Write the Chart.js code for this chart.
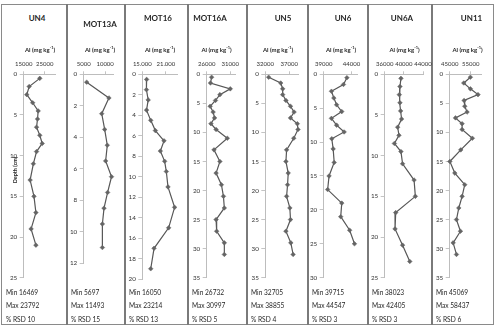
<!DOCTYPE html>
<html lang="en">
<head>
<meta charset="UTF-8">
<title>Al depth profiles</title>
<style>
    * { margin: 0; padding: 0; box-sizing: border-box; }
    body { width: 500px; height: 332px; background: #fff; position: relative; overflow: hidden; font-family: 'Lato', sans-serif; color: #262626; }
    .frame { position: absolute; left: 1px; top: 4px; width: 493px; height: 321px; border: 1.5px solid #8a8a8a; }
    .sep { position: absolute; top: 4px; width: 2px; height: 321px; background: #7a7a7a; }
    canvas { position: absolute; }
    .txt { position: absolute; white-space: nowrap; line-height: 1; }
    .title { font-weight: bold; font-size: 8px; transform: translate(-50%, -50%); }
    .axt { font-weight: bold; font-size: 6px; transform: translate(-50%, -50%); }
    .axt sup { font-size: 4px; vertical-align: 3px; }
    .stat { font-size: 6.6px; transform: translateY(-50%); }
    .depth { font-size: 5.5px; font-weight: bold; transform: translate(-50%, -50%) rotate(-90deg); }
</style>
</head>
<body>
<div class="frame"></div>
<script src="https://cdn.jsdelivr.net/npm/chart.js"></script>
<script>
    // core names
    const cores = ['UN4', 'MOT13A', 'MOT16', 'MOT16A', 'UN5', 'UN6', 'UN6A', 'UN11'];

    // depth (cm) of each sample, per core
    const depthUN4 = [0.5, 1.5, 2.5, 3.5, 4.5, 5.5, 6.5, 7.5, 8.5, 9.5, 11, 13, 15, 17, 19, 21];
    const depthMOT13A = [0.5, 1.5, 2.5, 3.5, 4.5, 5.5, 6.5, 7.5, 8.5, 9.5, 11];
    const depthMOT16 = [0.5, 1.5, 2.5, 3.5, 4.5, 5.5, 6.5, 7.5, 8.5, 9.5, 11, 13, 15, 17, 19];
    const depthMOT16A = [0.5, 1.5, 2.5, 3.5, 4.5, 5.5, 6.5, 7.5, 8.5, 9.5, 11, 13, 15, 17, 19, 21, 23, 25, 27, 29, 31];
    const depthUN5 = [0.5, 1.5, 2.5, 3.5, 4.5, 5.5, 6.5, 7.5, 8.5, 9.5, 11, 13, 15, 17, 19, 21, 23, 25, 27, 29, 31];
    const depthUN6 = [0.5, 1.5, 2.5, 3.5, 4.5, 5.5, 6.5, 7.5, 8.5, 9.5, 11, 13, 15, 17, 19, 21, 23, 25];
    const depthUN6A = [0.5, 1.5, 2.5, 3.5, 4.5, 5.5, 6.5, 7.5, 8.5, 9.5, 11, 13, 15, 17, 19, 21, 23];
    const depthUN11 = [0.5, 1.5, 2.5, 3.5, 4.5, 5.5, 6.5, 7.5, 8.5, 9.5, 11, 13, 15, 17, 19, 21, 23, 25, 27, 29, 31];

    // Al (mg/kg) per core
    const alUN4 = [22630, 17594, 16469, 19270, 21870, 21560, 21100, 22630, 23792, 21100, 19580, 18050, 19880, 20800, 18510, 20800];
    const alMOT13A = [5697, 10885, 9207, 9893, 10504, 10122, 11493, 10580, 9741, 9359, 9359];
    const alMOT16 = [16100, 16050, 16500, 16080, 17146, 18326, 20518, 19590, 20686, 21108, 21530, 23214, 21698, 17989, 17146];
    const alMOT16A = [27046, 26800, 30997, 28800, 27860, 26732, 27360, 27670, 26900, 27990, 30370, 27550, 28800, 27990, 29120, 29550, 29740, 27990, 28110, 29740, 29740];
    const alUN5 = [32705, 35232, 35642, 35642, 36325, 37281, 38032, 37281, 38715, 38855, 37964, 36462, 36325, 36803, 36666, 36462, 37145, 37281, 36325, 37350, 37828];
    const alUN6 = [43180, 42560, 40396, 40830, 41324, 42253, 40396, 41324, 42686, 40458, 40705, 40891, 39963, 39715, 42253, 42067, 43677, 44547];
    const alUN6A = [39393, 39188, 39050, 39188, 39325, 39530, 38708, 38982, 38023, 39393, 39736, 42133, 42405, 38297, 38160, 39736, 41243];
    const alUN11 = [54822, 51676, 54822, 58437, 51833, 52148, 53249, 47743, 50889, 50889, 55765, 50260, 45069, 47428, 52148, 50889, 49316, 48215, 50103, 46642, 48215];

    // axis ranges and tick labels
    const xMin = [15000, 5000, 15000, 26000, 32000, 39000, 36000, 45000];
    const xMax = [30000, 12000, 24000, 32000, 39000, 45000, 44000, 60000];
    const xTicks = [[15000, 25000], [5000, 10000], [15000, 21000], [26000, 31000], [32000, 37000], [39000, 44000], [36000, 40000, 44000], [45000, 55000]];
    const xTickLabels = [['15000', '25000'], ['5000', '10000'], ['15.000', '21.000'], ['26000', '31000'], ['32000', '37000'], ['39000', '44000'], ['36000', '40000', '44000'], ['45000', '55000']];
    const yMax = [25, 12, 20, 35, 35, 30, 25, 35];
    const yStep = [5, 2, 2, 5, 5, 5, 5, 5];

    // summary lines under each profile
    const minText = ['Min 16469', 'Min 5697', 'Min 16050', 'Min 26732', 'Min 32705', 'Min 39715', 'Min 38023', 'Min 45069'];
    const maxText = ['Max 23792', 'Max 11493', 'Max 23214', 'Max 30997', 'Max 38855', 'Max 44547', 'Max 42405', 'Max 58437'];
    const rsdText = ['% RSD 10', '% RSD 15', '% RSD 13', '% RSD 5', '% RSD 4', '% RSD 3', '% RSD 3', '% RSD 6'];

    const depths = [depthUN4, depthMOT13A, depthMOT16, depthMOT16A, depthUN5, depthUN6, depthUN6A, depthUN11];
    const values = [alUN4, alMOT13A, alMOT16, alMOT16A, alUN5, alUN6, alUN6A, alUN11];

    // panel geometry (pixels): panel edges, plot box, title / axis title centres
    const layout = [
        { left: 2, right: 67, plotL: 23.7, plotR: 55.3, plotB: 277.7, tx: 37, ty: 18, ax: 40 },
        { left: 67, right: 125, plotL: 83.7, plotR: 113.7, plotB: 263.3, tx: 100, ty: 24, ax: 100 },
        { left: 125, right: 188, plotL: 142.3, plotR: 177.7, plotB: 279, tx: 158, ty: 18, ax: 160 },
        { left: 188, right: 247, plotL: 206.7, plotR: 235, plotB: 277.7, tx: 210, ty: 18, ax: 216.5 },
        { left: 247, right: 308, plotL: 265.3, plotR: 298.7, plotB: 277.7, tx: 283, ty: 18, ax: 278 },
        { left: 308, right: 368, plotL: 323.7, plotR: 357, plotB: 277.7, tx: 343, ty: 18, ax: 341 },
        { left: 368, right: 432, plotL: 384.7, plotR: 423, plotB: 277.7, tx: 402, ty: 18, ax: 404.5 },
        { left: 432, right: 493, plotL: 449.7, plotR: 481.3, plotB: 277.7, tx: 471.5, ty: 18, ax: 467.5 }
    ];
    const plotTop = 74.3;
    const canvasTop = 52;
    const canvasH = 240;

    function addText(html, cls, x, y) {
        const d = document.createElement('div');
        d.className = 'txt ' + cls;
        d.innerHTML = html;
        d.style.left = x + 'px';
        d.style.top = y + 'px';
        document.body.appendChild(d);
    }

    // separators between panels
    layout.slice(1).forEach(p => {
        const s = document.createElement('div');
        s.className = 'sep';
        s.style.left = (p.left - 1) + 'px';
        document.body.appendChild(s);
    });

    Chart.defaults.font.family = 'Lato';
    Chart.defaults.color = '#333333';

    cores.forEach((name, i) => {
        const p = layout[i];
        const cLeft = p.left + 1;
        const cWidth = p.right - p.left + 14;
        const canvas = document.createElement('canvas');
        canvas.width = cWidth;
        canvas.height = canvasH;
        canvas.style.left = cLeft + 'px';
        canvas.style.top = canvasTop + 'px';
        document.body.appendChild(canvas);

        const pts = values[i].map((v, k) => ({ x: v, y: depths[i][k] }));

        new Chart(canvas.getContext('2d'), {
            type: 'scatter',
            data: {
                datasets: [{
                    data: pts,
                    showLine: true,
                    borderColor: '#575757',
                    borderWidth: 1.2,
                    pointStyle: 'rectRot',
                    pointRadius: 2.3,
                    pointBackgroundColor: '#646464',
                    pointBorderColor: '#646464',
                    pointBorderWidth: 0.5,
                    clip: false
                }]
            },
            options: {
                responsive: false,
                animation: false,
                events: [],
                layout: {
                    padding: {
                        left: 0, top: 0,
                        right: cWidth - (p.plotR - cLeft),
                        bottom: canvasH - (p.plotB - canvasTop)
                    }
                },
                plugins: { legend: { display: false }, tooltip: { enabled: false } },
                scales: {
                    x: {
                        type: 'linear',
                        position: 'top',
                        min: xMin[i],
                        max: xMax[i],
                        afterBuildTicks: s => { s.ticks = xTicks[i].map(v => ({ value: v })); },
                        afterFit: s => { s.height = plotTop - canvasTop; s.paddingLeft = 0; s.paddingRight = 0; },
                        ticks: {
                            font: { size: 6 },
                            padding: 4,
                            maxRotation: 0,
                            autoSkip: false,
                            callback: v => xTickLabels[i][xTicks[i].indexOf(v)]
                        },
                        grid: { drawOnChartArea: false, tickLength: 3, color: '#c4c4c4' },
                        border: { color: '#bdbdbd', width: 1 }
                    },
                    y: {
                        type: 'linear',
                        reverse: true,
                        min: 0,
                        max: yMax[i],
                        afterFit: s => { s.width = p.plotL - cLeft; s.paddingTop = 0; s.paddingBottom = 0; },
                        ticks: { stepSize: yStep[i], font: { size: 6.3 }, padding: 2.5 },
                        grid: { drawOnChartArea: false, tickLength: 4, color: '#c4c4c4' },
                        border: { color: '#bdbdbd', width: 1 }
                    }
                }
            }
        });

        addText(name, 'title', p.tx, p.ty);
        addText('Al (mg kg<sup>-1</sup>)', 'axt', p.ax, 48.5);
        addText(minText[i], 'stat', p.left + 4, 291.5);
        addText(maxText[i], 'stat', p.left + 4, 305);
        addText(rsdText[i], 'stat', p.left + 4, 319);
    });

    addText('Depth (cm)', 'depth', 16, 170);
</script>
</body>
</html>
